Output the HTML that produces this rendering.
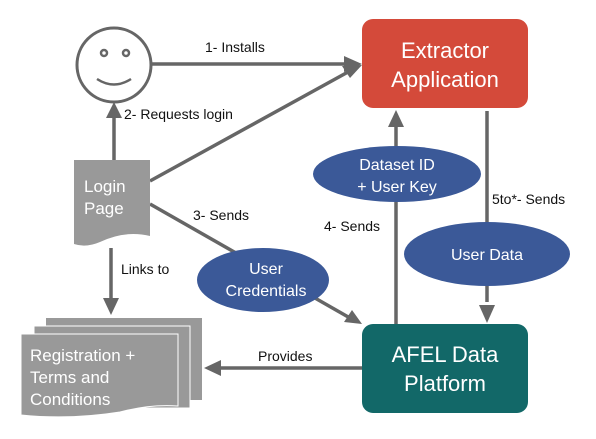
<!DOCTYPE html>
<html><head><style>
body{margin:0;background:#fff}
svg text{font-family:"Liberation Sans",sans-serif}
</style></head><body>
<svg width="596" height="434" viewBox="0 0 596 434" xmlns="http://www.w3.org/2000/svg">
<defs>
<marker id="a" markerWidth="10" markerHeight="10" refX="9" refY="5" orient="auto" markerUnits="userSpaceOnUse" viewBox="0 0 10 10">
</marker>
</defs>
<g stroke="#666" stroke-width="3.5" fill="none">
<line x1="151" y1="64" x2="346" y2="64"/>
<line x1="150" y1="181" x2="348" y2="72"/>
<line x1="114" y1="160" x2="114" y2="115"/>
<line x1="150" y1="204" x2="350" y2="318"/>
<line x1="111" y1="248" x2="111" y2="300"/>
<line x1="362" y1="368" x2="218" y2="368"/>
<line x1="396" y1="324" x2="396" y2="125"/>
<line x1="487" y1="111" x2="487" y2="302"/>
</g>
<g fill="#666">
<polygon points="362,64 344,56 344,72"/>
<polygon points="362,65 342,66 350,78"/>
<polygon points="114,102 106,118 122,118"/>
<polygon points="362,324 344,322 352,310"/>
<polygon points="111,315 103,298 119,298"/>
<polygon points="204,368 221,360 221,376"/>
<polygon points="396,110 388,127 404,127"/>
<polygon points="487,323 479,305 495,305"/>
</g>
<circle cx="114" cy="65" r="37" fill="#fff" stroke="#666" stroke-width="3"/>
<circle cx="104" cy="53" r="3" fill="none" stroke="#666" stroke-width="2.5"/>
<circle cx="126" cy="53" r="3" fill="none" stroke="#666" stroke-width="2.5"/>
<path d="M97 79 Q114 90 131 79" fill="none" stroke="#666" stroke-width="2.5"/>
<path d="M74 160 H150 V236 Q125 230 100 242 Q86 248 74 244 Z" fill="#999"/>
<text x="84" y="192" font-size="17" fill="#fff">Login</text>
<text x="84" y="214" font-size="17" fill="#fff">Page</text>
<path d="M46 318 H202 V400 H46 Z" fill="#999"/>
<path d="M34 326 H190 V408 H34 Z" fill="#999" stroke="#fff" stroke-width="1"/>
<path d="M21 334 H178 V406 Q150 404 120 412 Q70 420 21 415 Z" fill="#999" stroke="#fff" stroke-width="1"/>
<text x="30" y="361" font-size="17" fill="#fff">Registration +</text>
<text x="30" y="383" font-size="17" fill="#fff">Terms and</text>
<text x="30" y="405" font-size="17" fill="#fff">Conditions</text>
<rect x="362" y="19" width="166" height="89" rx="11" fill="#d44a3a"/>
<text x="445" y="58" font-size="22" fill="#fff" text-anchor="middle">Extractor</text>
<text x="445" y="87" font-size="22" fill="#fff" text-anchor="middle">Application</text>
<rect x="362" y="324" width="166" height="89" rx="11" fill="#126868"/>
<text x="445" y="362" font-size="22" fill="#fff" text-anchor="middle">AFEL Data</text>
<text x="445" y="391" font-size="22" fill="#fff" text-anchor="middle">Platform</text>
<g fill="#3b5998">
<ellipse cx="397" cy="174" rx="84" ry="28"/>
<ellipse cx="487" cy="254" rx="83" ry="32"/>
<ellipse cx="263" cy="280" rx="66" ry="32"/>
</g>
<g fill="#fff" font-size="16" text-anchor="middle">
<text x="397" y="170">Dataset ID</text>
<text x="397" y="192">+ User Key</text>
<text x="487" y="260">User Data</text>
<text x="266" y="274">User</text>
<text x="266" y="296">Credentials</text>
</g>
<g fill="#111" font-size="14">
<text x="205" y="52">1- Installs</text>
<text x="124" y="119">2- Requests login</text>
<text x="193" y="220">3- Sends</text>
<text x="121" y="274">Links to</text>
<text x="324" y="231">4- Sends</text>
<text x="492" y="204">5to*- Sends</text>
<text x="258" y="361">Provides</text>
</g>
</svg>
</body></html>
